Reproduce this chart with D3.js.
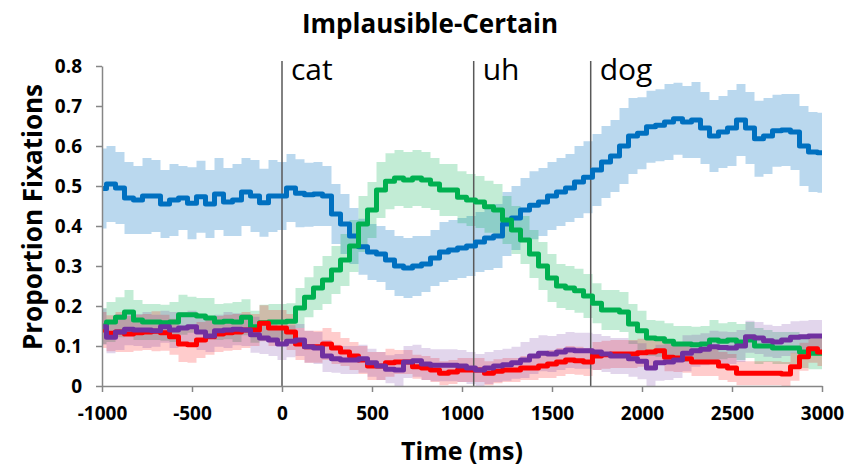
<!DOCTYPE html>
<html>
<head>
<meta charset="utf-8">
<script src="https://cdn.jsdelivr.net/npm/d3@7"></script>
<style>
  body { margin: 0; background: #fff; }
  svg { display: block; font-family: "Open Sans", sans-serif; }
</style>
</head>
<body>
<script>
// time grid (ms), one sample every 50 ms
const times = d3.range(-1000, 3001, 50);

// mean proportions, -1000 .. 3000 ms
const blueMean = [
  0.494, 0.505, 0.495, 0.47, 0.465, 0.475, 0.475, 0.455, 0.465, 0.47, 0.457,
  0.473, 0.455, 0.48, 0.46, 0.465, 0.485, 0.475, 0.458, 0.475, 0.475,
  0.495, 0.482, 0.478, 0.48, 0.475, 0.43, 0.405, 0.375, 0.348, 0.335,
  0.33, 0.315, 0.3, 0.295, 0.3, 0.305, 0.32, 0.335, 0.34, 0.345,
  0.35, 0.36, 0.37, 0.375, 0.405, 0.42, 0.44, 0.452, 0.46, 0.475,
  0.485, 0.495, 0.51, 0.522, 0.54, 0.56, 0.575, 0.6, 0.625, 0.632,
  0.648, 0.652, 0.66, 0.668, 0.66, 0.665, 0.645, 0.625, 0.635, 0.645,
  0.665, 0.645, 0.618, 0.625, 0.638, 0.64, 0.635, 0.6, 0.585, 0.583
];
const greenMean = [
  0.15, 0.16, 0.172, 0.185, 0.165, 0.16, 0.16, 0.158, 0.16, 0.178, 0.178,
  0.175, 0.17, 0.16, 0.162, 0.16, 0.172, 0.148, 0.158, 0.16, 0.16,
  0.162, 0.195, 0.222, 0.245, 0.265, 0.29, 0.315, 0.35, 0.405, 0.44,
  0.49, 0.512, 0.52, 0.515, 0.52, 0.515, 0.505, 0.49, 0.49, 0.472,
  0.465, 0.46, 0.448, 0.44, 0.415, 0.39, 0.365, 0.33, 0.3, 0.27,
  0.25, 0.245, 0.238, 0.225, 0.207, 0.19, 0.19, 0.185, 0.155, 0.138,
  0.12, 0.118, 0.112, 0.105, 0.105, 0.103, 0.105, 0.115, 0.112, 0.115,
  0.11, 0.115, 0.1, 0.1, 0.095, 0.095, 0.095, 0.085, 0.082, 0.082
];
const redMean = [
  0.14, 0.132, 0.135, 0.13, 0.133, 0.135, 0.137, 0.133, 0.123, 0.105, 0.103,
  0.115, 0.123, 0.13, 0.133, 0.135, 0.14, 0.14, 0.157, 0.145, 0.145,
  0.135, 0.105, 0.098, 0.098, 0.105, 0.095, 0.085, 0.075, 0.065, 0.05,
  0.05, 0.058, 0.06, 0.06, 0.048, 0.045, 0.04, 0.032, 0.035, 0.04,
  0.04, 0.04, 0.032, 0.037, 0.04, 0.04, 0.045, 0.045, 0.05, 0.055,
  0.06, 0.065, 0.063, 0.06, 0.075, 0.078, 0.08, 0.08, 0.08, 0.083,
  0.085, 0.088, 0.072, 0.07, 0.068, 0.06, 0.06, 0.06, 0.05, 0.045,
  0.032, 0.032, 0.032, 0.032, 0.032, 0.03, 0.048, 0.073, 0.093, 0.085
];
const purpleMean = [
  0.148, 0.122, 0.135, 0.142, 0.14, 0.14, 0.138, 0.148, 0.14, 0.145, 0.148,
  0.135, 0.125, 0.138, 0.14, 0.142, 0.14, 0.128, 0.12, 0.115, 0.105,
  0.112, 0.115, 0.098, 0.095, 0.075, 0.068, 0.065, 0.065, 0.068, 0.058,
  0.05, 0.042, 0.04, 0.06, 0.063, 0.055, 0.052, 0.052, 0.052, 0.05,
  0.045, 0.04, 0.045, 0.05, 0.053, 0.058, 0.065, 0.075, 0.082, 0.08,
  0.085, 0.09, 0.088, 0.088, 0.085, 0.08, 0.075, 0.075, 0.068, 0.062,
  0.045, 0.058, 0.06, 0.065, 0.082, 0.088, 0.092, 0.098, 0.096, 0.095,
  0.1, 0.123, 0.12, 0.113, 0.11, 0.115, 0.122, 0.123, 0.125, 0.125
];

// half-width of the error bars
const blueErr = [
  0.1, 0.095, 0.09, 0.09, 0.085, 0.095, 0.09, 0.085, 0.09, 0.08, 0.09,
  0.09, 0.085, 0.09, 0.085, 0.09, 0.085, 0.09, 0.085, 0.09, 0.085,
  0.085, 0.085, 0.08, 0.08, 0.075, 0.075, 0.075, 0.07, 0.07, 0.07,
  0.07, 0.075, 0.075, 0.075, 0.075, 0.07, 0.07, 0.075, 0.075, 0.075,
  0.075, 0.075, 0.08, 0.08, 0.08, 0.08, 0.08, 0.085, 0.085, 0.085,
  0.085, 0.085, 0.09, 0.09, 0.09, 0.09, 0.09, 0.095, 0.095, 0.09,
  0.09, 0.09, 0.095, 0.09, 0.09, 0.095, 0.09, 0.09, 0.09, 0.095,
  0.09, 0.09, 0.095, 0.095, 0.09, 0.09, 0.095, 0.1, 0.1, 0.1
];
const greenErr = [
  0.045, 0.05, 0.05, 0.055, 0.05, 0.045, 0.045, 0.045, 0.05, 0.05, 0.045,
  0.045, 0.05, 0.045, 0.045, 0.05, 0.045, 0.04, 0.045, 0.045, 0.045,
  0.045, 0.05, 0.05, 0.055, 0.06, 0.06, 0.065, 0.065, 0.07, 0.07,
  0.07, 0.07, 0.07, 0.07, 0.07, 0.07, 0.065, 0.065, 0.065, 0.065,
  0.065, 0.065, 0.065, 0.065, 0.06, 0.06, 0.06, 0.06, 0.06, 0.06,
  0.055, 0.055, 0.055, 0.055, 0.05, 0.05, 0.05, 0.05, 0.05, 0.05,
  0.045, 0.045, 0.045, 0.045, 0.045, 0.045, 0.045, 0.05, 0.045, 0.045,
  0.045, 0.045, 0.045, 0.04, 0.04, 0.04, 0.04, 0.04, 0.04, 0.04
];
const redErr = [
  0.045, 0.045, 0.05, 0.045, 0.045, 0.045, 0.05, 0.045, 0.045, 0.045, 0.045,
  0.045, 0.045, 0.045, 0.045, 0.045, 0.045, 0.04, 0.045, 0.045, 0.045,
  0.045, 0.04, 0.04, 0.04, 0.04, 0.04, 0.035, 0.035, 0.035, 0.035,
  0.035, 0.035, 0.03, 0.03, 0.03, 0.03, 0.03, 0.03, 0.03, 0.03,
  0.03, 0.03, 0.03, 0.03, 0.03, 0.03, 0.03, 0.03, 0.03, 0.035,
  0.035, 0.035, 0.035, 0.035, 0.035, 0.035, 0.035, 0.035, 0.035, 0.035,
  0.035, 0.035, 0.035, 0.035, 0.035, 0.035, 0.035, 0.035, 0.035, 0.035,
  0.03, 0.03, 0.03, 0.03, 0.03, 0.03, 0.035, 0.035, 0.035, 0.035
];
const purpleErr = [
  0.045, 0.04, 0.045, 0.04, 0.04, 0.045, 0.04, 0.04, 0.045, 0.04, 0.04,
  0.045, 0.04, 0.04, 0.045, 0.04, 0.04, 0.045, 0.04, 0.04, 0.04,
  0.04, 0.04, 0.04, 0.04, 0.04, 0.035, 0.035, 0.035, 0.035, 0.035,
  0.035, 0.035, 0.04, 0.04, 0.04, 0.04, 0.04, 0.04, 0.04, 0.04,
  0.04, 0.04, 0.04, 0.04, 0.04, 0.04, 0.045, 0.045, 0.045, 0.045,
  0.045, 0.045, 0.045, 0.045, 0.045, 0.045, 0.045, 0.045, 0.045, 0.045,
  0.045, 0.045, 0.045, 0.045, 0.045, 0.04, 0.04, 0.04, 0.04, 0.04,
  0.04, 0.04, 0.04, 0.04, 0.04, 0.04, 0.04, 0.04, 0.04, 0.04
];

// word onsets (ms)
const wordLabels = ['cat', 'uh', 'dog'];
const wordTimes = [0, 1065, 1715];

// axis ticks
const xTicks = [-1000, -500, 0, 500, 1000, 1500, 2000, 2500, 3000];
const yTicks = [0, 0.1, 0.2, 0.3, 0.4, 0.5, 0.6, 0.7, 0.8];

const series = [
  { name: 'blue', color: '#0070C0', mean: blueMean, err: blueErr, band: 0.27 },
  { name: 'green', color: '#00B050', mean: greenMean, err: greenErr, band: 0.24 },
  { name: 'red', color: '#FF0000', mean: redMean, err: redErr, band: 0.2 },
  { name: 'purple', color: '#7030A0', mean: purpleMean, err: purpleErr, band: 0.2 }
];

const width = 857;
const height = 470;

const x = d3.scaleLinear().domain([-1000, 3000]).range([102, 822]);
const y = d3.scaleLinear().domain([0, 0.8]).range([386, 66]);

const svg = d3.select('body').append('svg')
  .attr('width', width)
  .attr('height', height);

// error bands
const band = (s) => d3.area()
  .curve(d3.curveStep)
  .x((d, i) => x(times[i]))
  .y0((d, i) => y(Math.max(0, s.mean[i] - s.err[i])))
  .y1((d, i) => y(s.mean[i] + s.err[i]));

series.forEach((s) => {
  svg.append('path')
    .datum(s.mean)
    .attr('d', band(s))
    .attr('fill', s.color)
    .attr('fill-opacity', s.band);
});

// word onset markers
wordTimes.forEach((t, i) => {
  svg.append('line')
    .attr('x1', x(t)).attr('x2', x(t))
    .attr('y1', 61).attr('y2', y(0))
    .attr('stroke', '#595959')
    .attr('stroke-width', 1.5);
  svg.append('text')
    .attr('x', x(t) + 9)
    .attr('y', 80)
    .attr('font-size', 30)
    .attr('fill', '#000')
    .text(wordLabels[i]);
});

// mean lines
const line = (s) => d3.line()
  .curve(d3.curveStep)
  .x((d, i) => x(times[i]))
  .y((d) => y(d));

series.forEach((s) => {
  svg.append('path')
    .datum(s.mean)
    .attr('d', line(s))
    .attr('fill', 'none')
    .attr('stroke', s.color)
    .attr('stroke-width', 5)
    .attr('stroke-linejoin', 'round');
});

// axes
const gx = svg.append('g')
  .attr('transform', `translate(0,${y(0)})`)
  .call(d3.axisBottom(x).tickValues(xTicks).tickSize(6).tickSizeOuter(0).tickPadding(15)
    .tickFormat((d) => String(d)));
const gy = svg.append('g')
  .attr('transform', `translate(${x(-1000)},0)`)
  .call(d3.axisLeft(y).tickValues(yTicks).tickSize(6).tickSizeOuter(0).tickPadding(14)
    .tickFormat((d) => (d === 0 ? '0' : d3.format('.1f')(d))));

[gx, gy].forEach((g) => {
  g.selectAll('path, line').attr('stroke', '#868686').attr('stroke-width', 1.5);
  g.selectAll('text')
    .attr('font-family', '"Open Sans", sans-serif')
    .attr('font-size', 19)
    .attr('font-weight', 'bold')
    .attr('fill', '#000');
});

// titles
svg.append('text')
  .attr('x', 430)
  .attr('y', 33)
  .attr('text-anchor', 'middle')
  .attr('font-size', 26)
  .attr('font-weight', 'bold')
  .text('Implausible-Certain');

svg.append('text')
  .attr('x', 462)
  .attr('y', 460)
  .attr('text-anchor', 'middle')
  .attr('font-size', 25)
  .attr('font-weight', 'bold')
  .text('Time (ms)');

svg.append('text')
  .attr('transform', 'translate(42,217) rotate(-90)')
  .attr('text-anchor', 'middle')
  .attr('font-size', 26)
  .attr('font-weight', 'bold')
  .text('Proportion Fixations');
</script>
</body>
</html>
